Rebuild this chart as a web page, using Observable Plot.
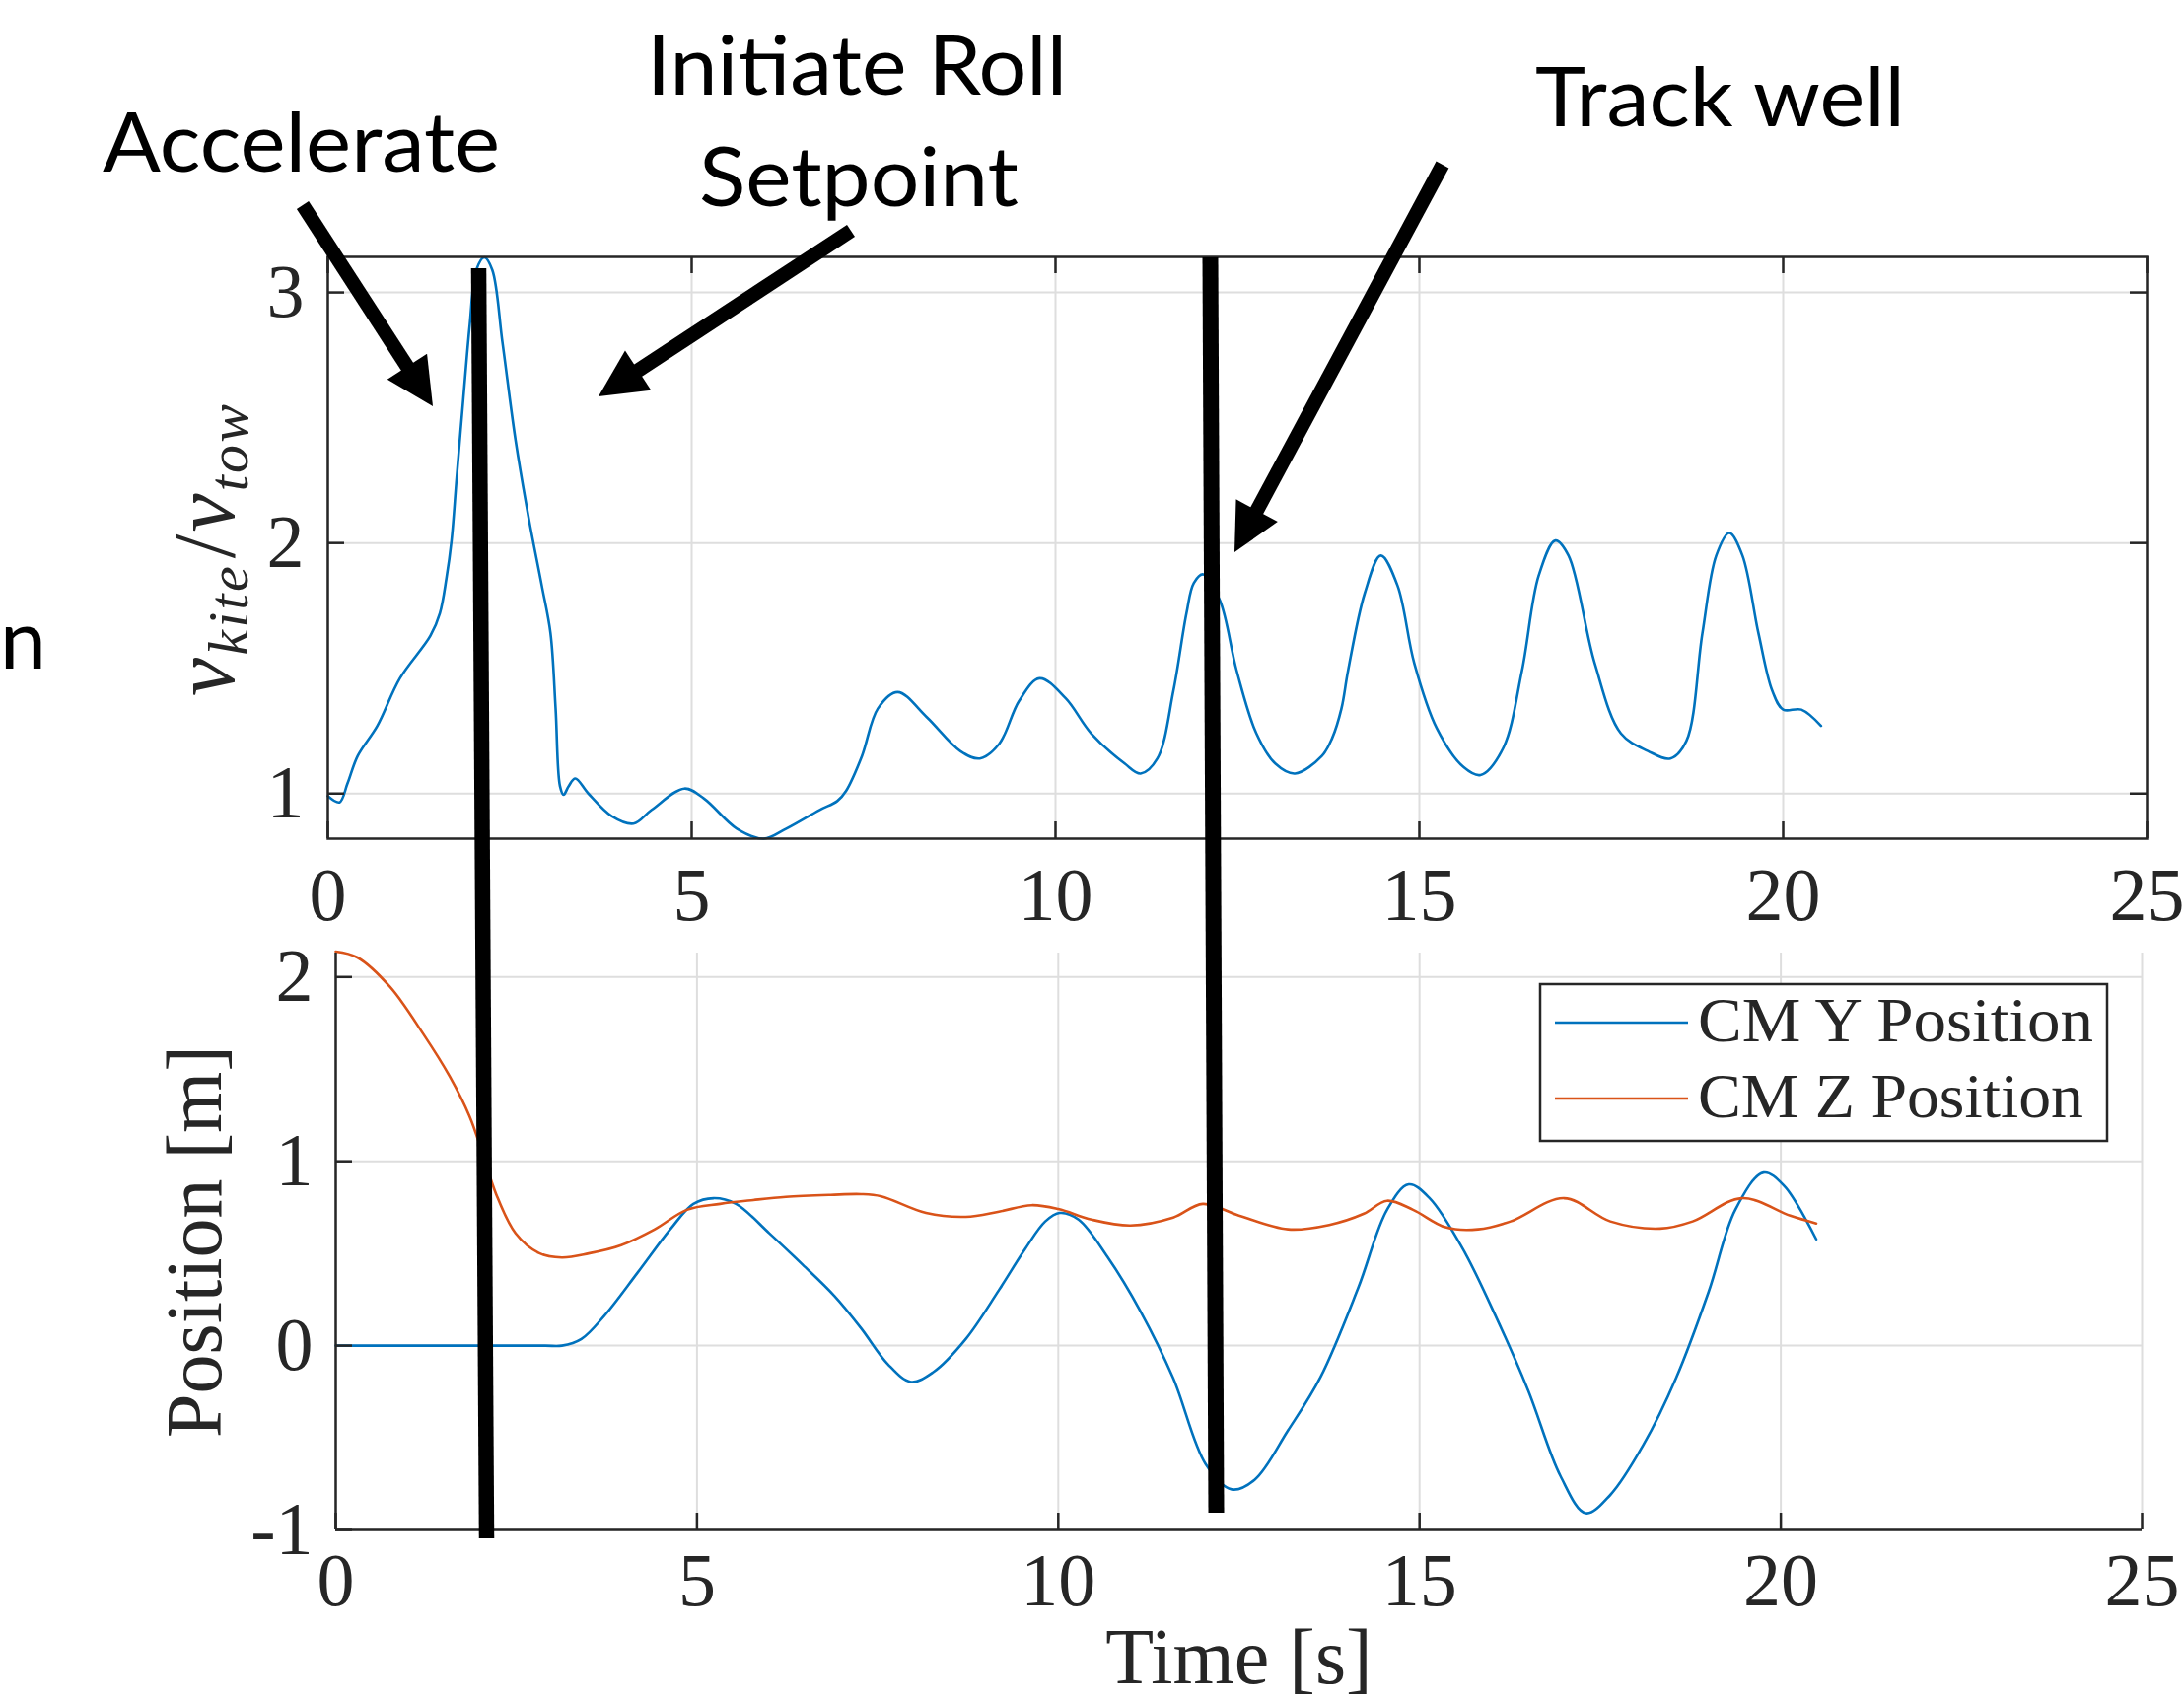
<!DOCTYPE html>
<html>
<head>
<meta charset="utf-8">
<script src="https://cdn.jsdelivr.net/npm/d3@7"></script>
<script src="https://cdn.jsdelivr.net/npm/@observablehq/plot@0.6"></script>
<style>
  html, body { margin: 0; padding: 0; background: #fff; overflow: hidden; }
  #root { position: relative; width: 2215px; height: 1726px; overflow: hidden; background: #fff; }
  #root > svg { position: absolute; left: 0; max-width: none !important; }
</style>
</head>
<body>
<div id="root"></div>
<script>
// ---------------- DATA ----------------
// Top panel: v_kite / v_tow vs time
const timeTop = [0.00,0.16,0.27,0.41,0.68,0.99,1.41,1.54,1.63,1.70,1.77,1.86,1.95,2.04,2.15,2.26,2.40,2.58,2.76,2.94,3.06,3.13,3.19,3.24,3.31,3.40,3.58,3.90,4.20,4.45,4.90,5.17,5.62,5.99,6.30,6.76,7.00,7.12,7.34,7.56,7.83,8.23,8.69,8.96,9.23,9.50,9.78,10.14,10.49,10.95,11.17,11.40,11.62,11.80,11.90,12.03,12.26,12.49,12.76,13.02,13.29,13.66,13.80,13.93,14.02,14.25,14.47,14.70,14.93,15.24,15.61,15.84,16.15,16.41,16.64,16.87,17.05,17.41,17.77,18.14,18.45,18.67,18.89,19.08,19.26,19.44,19.66,19.85,20.00,20.25,20.52];
const ratioTop = [0.99,0.965,1.04,1.15,1.27,1.46,1.63,1.72,1.86,2.01,2.26,2.57,2.87,3.09,3.14,3.09,2.80,2.41,2.10,1.83,1.64,1.34,1.03,0.995,1.03,1.06,1.00,0.91,0.88,0.935,1.02,0.98,0.86,0.82,0.86,0.935,0.97,1.01,1.15,1.34,1.405,1.305,1.17,1.14,1.20,1.37,1.46,1.38,1.24,1.12,1.08,1.14,1.41,1.72,1.84,1.875,1.77,1.49,1.24,1.12,1.08,1.15,1.22,1.34,1.49,1.80,1.95,1.83,1.52,1.26,1.105,1.074,1.18,1.49,1.87,2.01,1.95,1.52,1.24,1.17,1.14,1.21,1.64,1.95,2.04,1.95,1.64,1.41,1.335,1.335,1.27];

// Bottom panel: CM Y position
const timeY = [0,1.0,2.0,2.9,3.13,3.40,3.72,4.18,4.63,4.95,5.23,5.54,6.00,6.46,6.90,7.27,7.64,7.96,8.27,8.72,9.18,9.54,9.82,10.02,10.28,10.68,11.14,11.59,12.04,12.40,12.72,13.18,13.63,14.15,14.55,14.85,15.14,15.60,16.05,16.50,16.95,17.30,17.64,18.10,18.55,19.00,19.37,19.76,20.05,20.49];
const posY  = [0,0,0,0,0,0.036,0.163,0.397,0.631,0.769,0.80,0.769,0.61,0.44,0.27,0.095,-0.10,-0.197,-0.144,0.036,0.302,0.524,0.674,0.72,0.684,0.482,0.185,-0.176,-0.643,-0.78,-0.727,-0.46,-0.17,0.312,0.737,0.875,0.80,0.524,0.163,-0.24,-0.707,-0.909,-0.81,-0.537,-0.176,0.291,0.737,0.939,0.865,0.577];

// Bottom panel: CM Z position
const timeZ = [0,0.30,0.75,1.21,1.58,1.85,2.04,2.22,2.49,2.81,3.13,3.50,3.95,4.41,4.86,5.32,5.78,6.23,6.85,7.27,7.55,8.17,8.72,9.18,9.63,10.00,10.46,11.00,11.59,12.00,12.50,13.18,13.75,14.23,14.55,14.91,15.36,15.81,16.26,17.00,17.64,18.33,18.78,19.46,20.13,20.49];
const posZ  = [2.138,2.106,1.947,1.692,1.459,1.246,1.034,0.822,0.609,0.503,0.478,0.50,0.545,0.63,0.737,0.769,0.79,0.807,0.818,0.822,0.81,0.72,0.699,0.727,0.762,0.741,0.684,0.652,0.695,0.769,0.706,0.631,0.655,0.716,0.786,0.737,0.642,0.631,0.674,0.80,0.674,0.635,0.674,0.80,0.705,0.663];

const seriesNames = ["CM Y Position", "CM Z Position"];
const xTicks = [0, 5, 10, 15, 20, 25];
const yTicksTop = [1, 2, 3];
const yTicksBottom = [-1, 0, 1, 2];
const labelTopY = ["v", "kite", "/", "v", "tow"];
const labelBottomY = "Position [m]";
const labelX = "Time [s]";
const annotationLabels = ["Accelerate", "Initiate Roll", "Setpoint", "Track well", "n"];

// ---------------- STYLE / LAYOUT ----------------
const blue = "#0072BD", orange = "#D95319";
const axisColor = "#262626", gridColor = "#dedede";
const serif = "'Liberation Serif','Times New Roman',serif";
const sans = "Lato, 'Open Sans', sans-serif";
const tickLen = 17;
const curve = "catmull-rom";

const topData = timeTop.map((t, i) => ({t, v: ratioTop[i]}));
const yData = timeY.map((t, i) => ({t, p: posY[i]}));
const zData = timeZ.map((t, i) => ({t, p: posZ[i]}));
const fmt = d => String(d);

const root = document.getElementById("root");

// ---- Top panel ----
const T = {w: 2215, h: 940, l: 332, r: 38, t: 260, b: 90};
const pwT = T.w - T.l - T.r, phT = T.h - T.t - T.b;
const topPlot = Plot.plot({
  width: T.w, height: T.h,
  marginLeft: T.l, marginRight: T.r, marginTop: T.t, marginBottom: T.b,
  style: {fontFamily: serif, fontSize: "76px", color: axisColor, background: "transparent", overflow: "visible"},
  x: {domain: [0, 25], label: null},
  y: {domain: [0.82, 3.142], label: null},
  marks: [
    Plot.gridX(xTicks, {stroke: gridColor, strokeOpacity: 1, strokeWidth: 2}),
    Plot.gridY(yTicksTop, {stroke: gridColor, strokeOpacity: 1, strokeWidth: 2}),
    Plot.line(topData, {x: "t", y: "v", stroke: blue, strokeWidth: 2.6, curve}),
    Plot.frame({stroke: axisColor, strokeWidth: 2.5}),
    Plot.tickX(xTicks, {x: d => d, insetTop: phT - tickLen, stroke: axisColor, strokeWidth: 2.5}),
    Plot.tickX(xTicks, {x: d => d, insetBottom: phT - tickLen, stroke: axisColor, strokeWidth: 2.5}),
    Plot.tickY(yTicksTop, {y: d => d, insetRight: pwT - tickLen, stroke: axisColor, strokeWidth: 2.5}),
    Plot.tickY(yTicksTop, {y: d => d, insetLeft: pwT - tickLen, stroke: axisColor, strokeWidth: 2.5}),
    Plot.axisX(xTicks, {tickSize: 0, tickPadding: 29, tickFormat: fmt, label: null}),
    Plot.axisY(yTicksTop, {tickSize: 0, tickPadding: 24, tickFormat: fmt, label: null})
  ]
});
topPlot.style.top = "0px";
root.appendChild(topPlot);

// top y label  v_kite / v_tow (rotated)
{
  const g = d3.select(topPlot).append("text")
    .attr("transform", "translate(237,558) rotate(-90)")
    .attr("text-anchor", "middle")
    .attr("font-family", serif)
    .attr("fill", axisColor)
    .attr("font-size", 88)
    .attr("textLength", 296)
    .attr("lengthAdjust", "spacing");
  g.append("tspan").attr("font-style", "italic").text(labelTopY[0]);
  g.append("tspan").attr("font-style", "italic").attr("font-size", 58).attr("dy", 14).text(labelTopY[1]);
  g.append("tspan").attr("dy", -14).attr("dx", 6).text(labelTopY[2]);
  g.append("tspan").attr("font-style", "italic").text(labelTopY[3]);
  g.append("tspan").attr("font-style", "italic").attr("font-size", 58).attr("dy", 14).text(labelTopY[4]);
}

// ---- Bottom panel ----
const B = {w: 2215, h: 786, l: 340, r: 43, t: 26, b: 175, top: 940};
const pwB = B.w - B.l - B.r, phB = B.h - B.t - B.b;
const bottomPlot = Plot.plot({
  width: B.w, height: B.h,
  marginLeft: B.l, marginRight: B.r, marginTop: B.t, marginBottom: B.b,
  style: {fontFamily: serif, fontSize: "76px", color: axisColor, background: "transparent", overflow: "visible"},
  x: {domain: [0, 25], label: null},
  y: {domain: [-1, 2.13], label: null},
  marks: [
    Plot.gridX(xTicks, {stroke: gridColor, strokeOpacity: 1, strokeWidth: 2}),
    Plot.gridY(yTicksBottom, {stroke: gridColor, strokeOpacity: 1, strokeWidth: 2}),
    Plot.line(yData, {x: "t", y: "p", stroke: blue, strokeWidth: 2.6, curve}),
    Plot.line(zData, {x: "t", y: "p", stroke: orange, strokeWidth: 2.6, curve}),
    Plot.ruleX([0], {stroke: axisColor, strokeWidth: 2.5}),
    Plot.ruleY([-1], {stroke: axisColor, strokeWidth: 2.5}),
    Plot.tickX(xTicks, {x: d => d, insetTop: phB - tickLen, stroke: axisColor, strokeWidth: 2.5}),
    Plot.tickY(yTicksBottom, {y: d => d, insetRight: pwB - tickLen, stroke: axisColor, strokeWidth: 2.5}),
    Plot.axisX(xTicks, {tickSize: 0, tickPadding: 23, tickFormat: fmt, label: null}),
    Plot.axisY(yTicksBottom, {tickSize: 0, tickPadding: 23, tickFormat: fmt, label: null}),
    Plot.text([labelBottomY], {text: d => d, frameAnchor: "left", dx: -142, rotate: -90, fontSize: 80, fill: axisColor, textAnchor: "middle", lineAnchor: "middle"}),
    Plot.text([labelX], {text: d => d, frameAnchor: "bottom", dy: 130, fontSize: 80, fill: axisColor, textAnchor: "middle", lineAnchor: "middle"})
  ]
});
bottomPlot.style.top = B.top + "px";
root.appendChild(bottomPlot);

// legend (inside bottom panel)
{
  const lg = d3.select(bottomPlot).append("g").attr("text-anchor", "start");
  lg.append("rect").attr("x", 1562).attr("y", 58).attr("width", 575).attr("height", 159)
    .attr("fill", "#fff").attr("stroke", axisColor).attr("stroke-width", 2.5);
  const rows = [{name: seriesNames[0], color: blue, y: 97, len: 401}, {name: seriesNames[1], color: orange, y: 174, len: 391}];
  rows.forEach(r => {
    lg.append("line").attr("x1", 1577).attr("x2", 1712).attr("y1", r.y).attr("y2", r.y)
      .attr("stroke", r.color).attr("stroke-width", 2.6);
    lg.append("text").attr("x", 1722).attr("y", r.y + 19).attr("text-anchor", "start")
      .attr("font-family", serif).attr("font-size", 64).attr("fill", axisColor)
      .attr("textLength", r.len).attr("lengthAdjust", "spacingAndGlyphs").text(r.name);
  });
}

// ---- Overlay annotations (arrows, markers, callout text) ----
const overlay = d3.create("svg").attr("width", 2215).attr("height", 1726)
  .attr("viewBox", "0 0 2215 1726").style("top", "0px").style("pointer-events", "none");
// vertical marker lines
[[485.5, 272, 493.5, 1560, 15.5], [1227.5, 261, 1233.5, 1534, 16]].forEach(([x1, y1, x2, y2, w]) => {
  overlay.append("line").attr("x1", x1).attr("y1", y1).attr("x2", x2).attr("y2", y2)
    .attr("stroke", "#000").attr("stroke-width", w).attr("stroke-linecap", "butt");
});
// arrows: start -> tip
const arrows = [[307, 208, 439, 412], [863, 234, 607, 402], [1463, 167, 1252, 560]];
arrows.forEach(([sx, sy, tx, ty]) => {
  const L = Math.hypot(tx - sx, ty - sy), ux = (tx - sx) / L, uy = (ty - sy) / L;
  const hl = 48, hw = 24;
  const bx = tx - hl * ux, by = ty - hl * uy;
  overlay.append("line").attr("x1", sx).attr("y1", sy).attr("x2", bx + ux * 4).attr("y2", by + uy * 4)
    .attr("stroke", "#000").attr("stroke-width", 14.5).attr("stroke-linecap", "butt");
  overlay.append("polygon")
    .attr("points", `${tx},${ty} ${bx - hw * uy},${by + hw * ux} ${bx + hw * uy},${by - hw * ux}`)
    .attr("fill", "#000");
});
// callout texts
const callouts = [
  {x: 104, y: 174, len: 403},
  {x: 656, y: 96, len: 426},
  {x: 709, y: 209, len: 324},
  {x: 1557, y: 128, len: 375}
];
callouts.forEach((c, i) => {
  overlay.append("text").attr("x", c.x).attr("y", c.y)
    .attr("font-family", sans).attr("font-size", 84).attr("fill", "#000")
    .attr("textLength", c.len).attr("lengthAdjust", "spacingAndGlyphs")
    .text(annotationLabels[i]);
});
overlay.append("text").attr("x", 0).attr("y", 678).attr("text-anchor", "start")
  .attr("font-family", sans).attr("font-size", 84).attr("fill", "#000").text(annotationLabels[4]);
root.appendChild(overlay.node());
</script>
</body>
</html>
